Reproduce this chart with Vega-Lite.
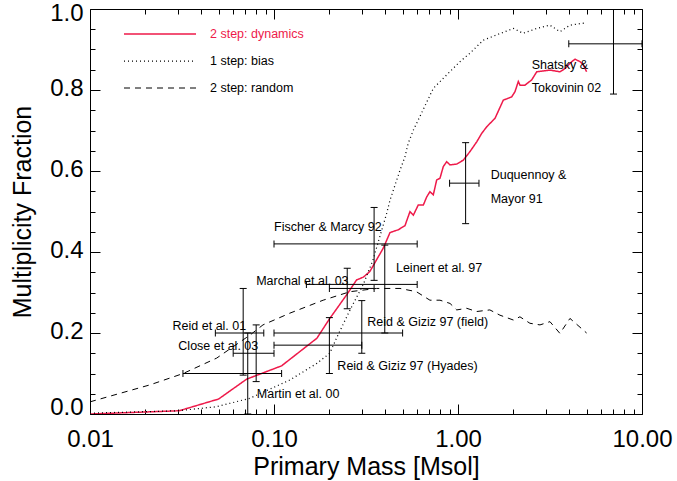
{
  "$schema": "https://vega.github.io/schema/vega-lite/v6.json",
  "width": 552,
  "height": 405,
  "autosize": {"type": "none"},
  "padding": {"left": 90, "top": 9, "right": 35, "bottom": 67},
  "background": "white",
  "config": {
    "font": "Liberation Sans",
    "view": {"stroke": "#000", "strokeWidth": 1},
    "axis": {
      "domain": false,
      "grid": false,
      "tickColor": "#000",
      "tickWidth": 1,
      "labelColor": "#000",
      "titleColor": "#000",
      "labelFontSize": 24,
      "titleFontSize": 25,
      "titleFontWeight": "normal",
      "labelFlush": false,
      "labelOverlap": false
    },
    "legend": {
      "orient": "none",
      "legendX": 33,
      "legendY": 18.5,
      "symbolType": "stroke",
      "symbolSize": 5184,
      "clipHeight": 13,
      "labelFontSize": 12.5,
      "labelOffset": 13,
      "rowPadding": 14,
      "padding": 0
    }
  },
  "datasets": {
    "curves": [
      {"series": "2 step: dynamics", "m": 0.01, "f": 0.0},
      {"series": "2 step: dynamics", "m": 0.0305, "f": 0.008},
      {"series": "2 step: dynamics", "m": 0.05, "f": 0.037},
      {"series": "2 step: dynamics", "m": 0.071, "f": 0.086},
      {"series": "2 step: dynamics", "m": 0.11, "f": 0.119},
      {"series": "2 step: dynamics", "m": 0.171, "f": 0.187},
      {"series": "2 step: dynamics", "m": 0.201, "f": 0.236},
      {"series": "2 step: dynamics", "m": 0.248, "f": 0.294},
      {"series": "2 step: dynamics", "m": 0.281, "f": 0.331},
      {"series": "2 step: dynamics", "m": 0.306, "f": 0.338},
      {"series": "2 step: dynamics", "m": 0.332, "f": 0.352},
      {"series": "2 step: dynamics", "m": 0.393, "f": 0.41},
      {"series": "2 step: dynamics", "m": 0.427, "f": 0.448},
      {"series": "2 step: dynamics", "m": 0.474, "f": 0.455},
      {"series": "2 step: dynamics", "m": 0.515, "f": 0.465},
      {"series": "2 step: dynamics", "m": 0.548, "f": 0.4995},
      {"series": "2 step: dynamics", "m": 0.572, "f": 0.491},
      {"series": "2 step: dynamics", "m": 0.608, "f": 0.516},
      {"series": "2 step: dynamics", "m": 0.648, "f": 0.516},
      {"series": "2 step: dynamics", "m": 0.676, "f": 0.536},
      {"series": "2 step: dynamics", "m": 0.704, "f": 0.549},
      {"series": "2 step: dynamics", "m": 0.734, "f": 0.541},
      {"series": "2 step: dynamics", "m": 0.766, "f": 0.578},
      {"series": "2 step: dynamics", "m": 0.798, "f": 0.582},
      {"series": "2 step: dynamics", "m": 0.832, "f": 0.611},
      {"series": "2 step: dynamics", "m": 0.868, "f": 0.623},
      {"series": "2 step: dynamics", "m": 0.905, "f": 0.615},
      {"series": "2 step: dynamics", "m": 0.984, "f": 0.617},
      {"series": "2 step: dynamics", "m": 1.069, "f": 0.627},
      {"series": "2 step: dynamics", "m": 1.162, "f": 0.648},
      {"series": "2 step: dynamics", "m": 1.264, "f": 0.672},
      {"series": "2 step: dynamics", "m": 1.346, "f": 0.693},
      {"series": "2 step: dynamics", "m": 1.432, "f": 0.709},
      {"series": "2 step: dynamics", "m": 1.556, "f": 0.726},
      {"series": "2 step: dynamics", "m": 1.589, "f": 0.73},
      {"series": "2 step: dynamics", "m": 1.763, "f": 0.775},
      {"series": "2 step: dynamics", "m": 1.958, "f": 0.783},
      {"series": "2 step: dynamics", "m": 2.041, "f": 0.796},
      {"series": "2 step: dynamics", "m": 2.127, "f": 0.821},
      {"series": "2 step: dynamics", "m": 2.173, "f": 0.812},
      {"series": "2 step: dynamics", "m": 2.312, "f": 0.812},
      {"series": "2 step: dynamics", "m": 2.515, "f": 0.825},
      {"series": "2 step: dynamics", "m": 2.679, "f": 0.845},
      {"series": "2 step: dynamics", "m": 2.911, "f": 0.847},
      {"series": "2 step: dynamics", "m": 3.165, "f": 0.849},
      {"series": "2 step: dynamics", "m": 3.583, "f": 0.845},
      {"series": "2 step: dynamics", "m": 3.816, "f": 0.853},
      {"series": "2 step: dynamics", "m": 4.15, "f": 0.87},
      {"series": "2 step: dynamics", "m": 4.326, "f": 0.876},
      {"series": "2 step: dynamics", "m": 4.603, "f": 0.87},
      {"series": "2 step: dynamics", "m": 4.799, "f": 0.862},
      {"series": "2 step: dynamics", "m": 5.0, "f": 0.845},

      {"series": "1 step: bias", "m": 0.01, "f": 0.002},
      {"series": "1 step: bias", "m": 0.03, "f": 0.008},
      {"series": "1 step: bias", "m": 0.0488, "f": 0.018},
      {"series": "1 step: bias", "m": 0.0741, "f": 0.039},
      {"series": "1 step: bias", "m": 0.122, "f": 0.084},
      {"series": "1 step: bias", "m": 0.171, "f": 0.125},
      {"series": "1 step: bias", "m": 0.201, "f": 0.15},
      {"series": "1 step: bias", "m": 0.22, "f": 0.19},
      {"series": "1 step: bias", "m": 0.259, "f": 0.257},
      {"series": "1 step: bias", "m": 0.305, "f": 0.319},
      {"series": "1 step: bias", "m": 0.345, "f": 0.38},
      {"series": "1 step: bias", "m": 0.376, "f": 0.438},
      {"series": "1 step: bias", "m": 0.41, "f": 0.496},
      {"series": "1 step: bias", "m": 0.427, "f": 0.528},
      {"series": "1 step: bias", "m": 0.484, "f": 0.602},
      {"series": "1 step: bias", "m": 0.515, "f": 0.635},
      {"series": "1 step: bias", "m": 0.536, "f": 0.668},
      {"series": "1 step: bias", "m": 0.572, "f": 0.701},
      {"series": "1 step: bias", "m": 0.62, "f": 0.734},
      {"series": "1 step: bias", "m": 0.734, "f": 0.804},
      {"series": "1 step: bias", "m": 0.832, "f": 0.829},
      {"series": "1 step: bias", "m": 1.025, "f": 0.87},
      {"series": "1 step: bias", "m": 1.162, "f": 0.891},
      {"series": "1 step: bias", "m": 1.372, "f": 0.923},
      {"series": "1 step: bias", "m": 1.62, "f": 0.936},
      {"series": "1 step: bias", "m": 2.0, "f": 0.952},
      {"series": "1 step: bias", "m": 2.26, "f": 0.94},
      {"series": "1 step: bias", "m": 2.68, "f": 0.952},
      {"series": "1 step: bias", "m": 3.16, "f": 0.96},
      {"series": "1 step: bias", "m": 3.58, "f": 0.944},
      {"series": "1 step: bias", "m": 4.06, "f": 0.96},
      {"series": "1 step: bias", "m": 4.8, "f": 0.965},
      {"series": "1 step: bias", "m": 5.0, "f": 0.963},

      {"series": "2 step: random", "m": 0.01, "f": 0.03},
      {"series": "2 step: random", "m": 0.0212, "f": 0.072},
      {"series": "2 step: random", "m": 0.0321, "f": 0.1},
      {"series": "2 step: random", "m": 0.0488, "f": 0.138},
      {"series": "2 step: random", "m": 0.0741, "f": 0.195},
      {"series": "2 step: random", "m": 0.0871, "f": 0.22},
      {"series": "2 step: random", "m": 0.122, "f": 0.249},
      {"series": "2 step: random", "m": 0.185, "f": 0.281},
      {"series": "2 step: random", "m": 0.259, "f": 0.302},
      {"series": "2 step: random", "m": 0.361, "f": 0.31},
      {"series": "2 step: random", "m": 0.484, "f": 0.31},
      {"series": "2 step: random", "m": 0.594, "f": 0.302},
      {"series": "2 step: random", "m": 0.704, "f": 0.281},
      {"series": "2 step: random", "m": 0.798, "f": 0.281},
      {"series": "2 step: random", "m": 0.905, "f": 0.273},
      {"series": "2 step: random", "m": 0.984, "f": 0.257},
      {"series": "2 step: random", "m": 1.115, "f": 0.261},
      {"series": "2 step: random", "m": 1.26, "f": 0.253},
      {"series": "2 step: random", "m": 1.49, "f": 0.257},
      {"series": "2 step: random", "m": 1.69, "f": 0.244},
      {"series": "2 step: random", "m": 2.0, "f": 0.232},
      {"series": "2 step: random", "m": 2.17, "f": 0.24},
      {"series": "2 step: random", "m": 2.46, "f": 0.224},
      {"series": "2 step: random", "m": 2.79, "f": 0.22},
      {"series": "2 step: random", "m": 3.16, "f": 0.228},
      {"series": "2 step: random", "m": 3.58, "f": 0.199},
      {"series": "2 step: random", "m": 4.06, "f": 0.236},
      {"series": "2 step: random", "m": 4.8, "f": 0.207},
      {"series": "2 step: random", "m": 5.0, "f": 0.2}
    ],
    "obs": [
      {"survey": "Martin et al. 00", "m": 0.072, "f": 0.10, "mlo": 0.032, "mhi": 0.11, "flo": 0.0, "fhi": 0.2},
      {"survey": "Reid et al. 01", "m": 0.068, "f": 0.20, "mlo": 0.048, "mhi": 0.088, "flo": 0.096, "fhi": 0.31},
      {"survey": "Close et al. 03", "m": 0.080, "f": 0.15, "mlo": 0.06, "mhi": 0.10, "flo": 0.08, "fhi": 0.22},
      {"survey": "Reid & Gizis 97 (Hyades)", "m": 0.20, "f": 0.17, "mlo": 0.1, "mhi": 0.3, "flo": 0.10, "fhi": 0.238},
      {"survey": "Reid & Gizis 97 (field)", "m": 0.30, "f": 0.20, "mlo": 0.1, "mhi": 0.5, "flo": 0.15, "fhi": 0.28},
      {"survey": "Marchal et al. 03", "m": 0.25, "f": 0.31, "mlo": 0.2, "mhi": 0.35, "flo": 0.26, "fhi": 0.36},
      {"survey": "Leinert et al. 97", "m": 0.40, "f": 0.32, "mlo": 0.15, "mhi": 0.6, "flo": 0.20, "fhi": 0.417},
      {"survey": "Fischer & Marcy 92", "m": 0.35, "f": 0.42, "mlo": 0.1, "mhi": 0.6, "flo": 0.33, "fhi": 0.51},
      {"survey": "Duquennoy & Mayor 91", "m": 1.1, "f": 0.57, "mlo": 0.9, "mhi": 1.3, "flo": 0.47, "fhi": 0.67},
      {"survey": "Shatsky & Tokovinin 02", "m": 7.0, "f": 0.914, "mlo": 4.0, "mhi": 10.0, "flo": 0.79, "fhi": 1.0}
    ],
    "notes": [
      {"text": "Shatsky &", "m": 2.515, "f": 0.862},
      {"text": "Tokovinin 02", "m": 2.515, "f": 0.804},
      {"text": "Duquennoy &", "m": 1.505, "f": 0.59},
      {"text": "Mayor 91", "m": 1.505, "f": 0.531},
      {"text": "Fischer & Marcy 92", "m": 0.1, "f": 0.461},
      {"text": "Leinert et al. 97", "m": 0.46, "f": 0.36},
      {"text": "Marchal et al. 03", "m": 0.08, "f": 0.329},
      {"text": "Reid & Giziz 97 (field)", "m": 0.321, "f": 0.228},
      {"text": "Reid et al. 01", "m": 0.0281, "f": 0.2185},
      {"text": "Close et al. 03", "m": 0.0302, "f": 0.169},
      {"text": "Reid & Giziz 97 (Hyades)", "m": 0.221, "f": 0.1185},
      {"text": "Martin et al. 00", "m": 0.0806, "f": 0.049}
    ]
  },
  "layer": [
    {
      "data": {"name": "curves"},
      "mark": {"type": "line", "clip": true},
      "encoding": {
        "x": {
          "field": "m", "type": "quantitative",
          "scale": {"type": "log", "domain": [0.01, 10], "nice": false},
          "axis": {"orient": "bottom", "values": [0.01, 0.1, 1, 10], "format": ".2f", "tickSize": -10, "labelPadding": 23, "title": "Primary Mass [Msol]", "titlePadding": 3}
        },
        "y": {
          "field": "f", "type": "quantitative",
          "scale": {"domain": [0, 1], "nice": false, "zero": false},
          "axis": {"orient": "left", "values": [0, 0.2, 0.4, 0.6, 0.8, 1.0], "format": ".1f", "tickSize": -10, "labelPadding": 17, "title": "Multiplicity Fraction", "titlePadding": 14,
            "labelOffset": {"condition": [{"test": "datum.value >= 1", "value": 4}, {"test": "datum.value <= 0", "value": -7}], "value": -2}}
        },
        "color": {
          "field": "series", "type": "nominal",
          "scale": {"domain": ["2 step: dynamics", "1 step: bias", "2 step: random"], "range": ["#ee1a4a", "#000000", "#000000"]},
          "legend": {"title": null, "encode": {"labels": {"update": {"fill": {"signal": "datum.label === '2 step: dynamics' ? '#ee1a4a' : '#000000'"}}}}}
        },
        "strokeDash": {
          "field": "series", "type": "nominal",
          "scale": {"domain": ["2 step: dynamics", "1 step: bias", "2 step: random"], "range": [[1, 0], [1, 3], [6, 5]]},
          "legend": {"title": null, "encode": {"labels": {"update": {"fill": {"signal": "datum.label === '2 step: dynamics' ? '#ee1a4a' : '#000000'"}}}}}
        },
        "strokeWidth": {
          "field": "series", "type": "nominal",
          "scale": {"domain": ["2 step: dynamics", "1 step: bias", "2 step: random"], "range": [1.5, 1, 1]},
          "legend": {"title": null, "encode": {"labels": {"update": {"fill": {"signal": "datum.label === '2 step: dynamics' ? '#ee1a4a' : '#000000'"}}}}}
        }
      }
    },
    {
      "data": {"name": "obs"},
      "mark": {"type": "rule", "color": "#000000", "strokeWidth": 1, "clip": true},
      "encoding": {
        "x": {
          "field": "mlo", "type": "quantitative",
          "scale": {"type": "log", "domain": [0.01, 10], "nice": false},
          "axis": {"orient": "top", "values": [0.01, 0.1, 1, 10], "tickSize": -10, "labels": false, "title": null}
        },
        "x2": {"field": "mhi"},
        "y": {
          "field": "f", "type": "quantitative",
          "scale": {"domain": [0, 1], "nice": false, "zero": false},
          "axis": {"orient": "right", "values": [0, 0.2, 0.4, 0.6, 0.8, 1.0], "tickSize": -10, "labels": false, "title": null}
        }
      }
    },
    {
      "data": {"name": "obs"},
      "mark": {"type": "rule", "color": "#000000", "strokeWidth": 1, "clip": true},
      "encoding": {
        "x": {
          "field": "m", "type": "quantitative",
          "scale": {"type": "log", "domain": [0.01, 10], "nice": false},
          "axis": {"orient": "bottom", "values": [0.02, 0.03, 0.04, 0.05, 0.06, 0.07, 0.08, 0.09, 0.2, 0.3, 0.4, 0.5, 0.6, 0.7, 0.8, 0.9, 2, 3, 4, 5, 6, 7, 8, 9], "tickSize": -5, "labels": false, "title": null}
        },
        "y": {
          "field": "flo", "type": "quantitative",
          "scale": {"domain": [0, 1], "nice": false, "zero": false},
          "axis": {"orient": "left", "values": [0.05, 0.1, 0.15, 0.25, 0.3, 0.35, 0.45, 0.5, 0.55, 0.65, 0.7, 0.75, 0.85, 0.9, 0.95], "tickSize": -5, "labels": false, "title": null}
        },
        "y2": {"field": "fhi"}
      }
    },
    {
      "data": {"name": "obs"},
      "transform": [{"fold": ["mlo", "mhi"], "as": ["end", "mv"]}],
      "mark": {"type": "tick", "orient": "vertical", "size": 7, "thickness": 1, "color": "#000000", "opacity": 1, "clip": true},
      "encoding": {
        "x": {
          "field": "mv", "type": "quantitative",
          "scale": {"type": "log", "domain": [0.01, 10], "nice": false},
          "axis": {"orient": "top", "values": [0.02, 0.03, 0.04, 0.05, 0.06, 0.07, 0.08, 0.09, 0.2, 0.3, 0.4, 0.5, 0.6, 0.7, 0.8, 0.9, 2, 3, 4, 5, 6, 7, 8, 9], "tickSize": -5, "labels": false, "title": null}
        },
        "y": {
          "field": "f", "type": "quantitative",
          "scale": {"domain": [0, 1], "nice": false, "zero": false},
          "axis": {"orient": "right", "values": [0.05, 0.1, 0.15, 0.25, 0.3, 0.35, 0.45, 0.5, 0.55, 0.65, 0.7, 0.75, 0.85, 0.9, 0.95], "tickSize": -5, "labels": false, "title": null}
        }
      }
    },
    {
      "data": {"name": "obs"},
      "transform": [{"fold": ["flo", "fhi"], "as": ["end", "fv"]}],
      "mark": {"type": "tick", "orient": "horizontal", "size": 7, "thickness": 1, "color": "#000000", "opacity": 1, "clip": true},
      "encoding": {
        "x": {"field": "m", "type": "quantitative", "scale": {"type": "log", "domain": [0.01, 10], "nice": false}, "axis": null},
        "y": {"field": "fv", "type": "quantitative", "scale": {"domain": [0, 1], "nice": false, "zero": false}, "axis": null}
      }
    },
    {
      "data": {"name": "notes"},
      "mark": {"type": "text", "align": "left", "baseline": "middle", "fontSize": 12.5, "color": "#000000"},
      "encoding": {
        "x": {"field": "m", "type": "quantitative", "scale": {"type": "log", "domain": [0.01, 10], "nice": false}, "axis": null},
        "y": {"field": "f", "type": "quantitative", "scale": {"domain": [0, 1], "nice": false, "zero": false}, "axis": null},
        "text": {"field": "text"}
      }
    }
  ],
  "resolve": {"axis": {"x": "independent", "y": "independent"}}
}
